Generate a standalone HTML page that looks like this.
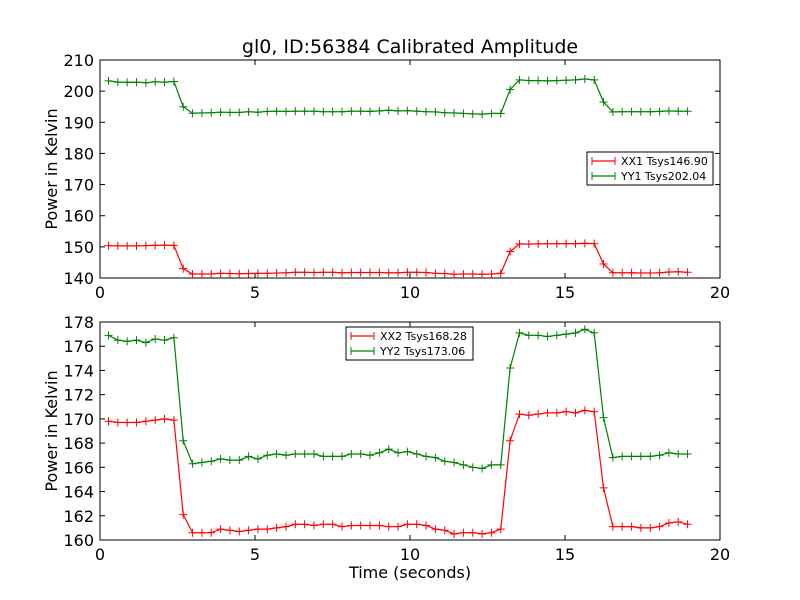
<!DOCTYPE html>
<html><head><meta charset="utf-8"><style>body{margin:0;background:#fff}svg{display:block}text{font-family:"DejaVu Sans","Liberation Sans",sans-serif}</style></head>
<body><svg id="s" width="800" height="600" xmlns="http://www.w3.org/2000/svg"></svg>
<script>
const S=document.getElementById('s');let h='';
const X0=100,X1=720;const xp=t=>X0+t*31;
function ptx(i){return 108.5+i*9.34;}
function axes(y0,y1,vmin,vmax,step,fmt){
 const yp=v=>y1-(v-vmin)/(vmax-vmin)*(y1-y0);
 h+=`<rect x="${X0}" y="${y0}" width="${X1-X0}" height="${y1-y0}" fill="#fff" stroke="#000" stroke-width="1"/>`;
 for(let t=0;t<=20;t+=5){const x=xp(t);h+=`<line x1="${x}" y1="${y1}" x2="${x}" y2="${y1-5}" stroke="#000"/><line x1="${x}" y1="${y0}" x2="${x}" y2="${y0+5}" stroke="#000"/><text x="${x}" y="${y1+20}" font-size="16" text-anchor="middle">${t}</text>`;}
 for(let v=vmin;v<=vmax+1e-9;v+=step){const y=yp(v);h+=`<line x1="${X0}" y1="${y}" x2="${X0+5}" y2="${y}" stroke="#000"/><line x1="${X1}" y1="${y}" x2="${X1-5}" y2="${y}" stroke="#000"/><text x="${X0-6}" y="${y+6}" font-size="16" text-anchor="end">${v}</text>`;}
 return yp;}
function series(yp,vals,c){let p=vals.map((v,i)=>`${ptx(i).toFixed(1)},${yp(v).toFixed(1)}`).join(' ');
 h+=`<polyline points="${p}" fill="none" stroke="${c}" stroke-width="1.2"/>`;
 vals.forEach((v,i)=>{const x=ptx(i),y=yp(v);h+=`<path d="M${x-4} ${y}H${x+4}M${x} ${y-4}V${y+4}" stroke="${c}" stroke-width="1"/>`;});}
function build(a,b,mid1,mid2,c,d){return [].concat(a,[mid1],b,[mid2],c,d);}
// bottom
const xx2=[169.8,169.7,169.7,169.7,169.8,169.9,170.0,169.9,162.1,
160.6,160.6,160.6,160.9,160.8,160.7,160.8,160.9,160.9,161.0,161.1,161.3,161.3,161.2,161.3,161.3,161.1,161.2,161.2,161.2,161.2,161.1,161.1,161.3,161.3,161.2,160.9,160.8,160.5,160.6,160.6,160.5,160.6,160.9,
168.2,170.4,170.3,170.4,170.5,170.5,170.6,170.5,170.7,170.6,164.3,161.1,161.1,161.1,161.0,161.0,161.1,161.4,161.5,161.3];
const yy2=[176.9,176.5,176.4,176.5,176.3,176.6,176.5,176.7,168.2,
166.3,166.4,166.5,166.7,166.6,166.6,166.9,166.7,167.0,167.1,167.0,167.1,167.1,167.1,166.9,166.9,166.9,167.1,167.1,167.0,167.2,167.5,167.2,167.3,167.1,166.9,166.8,166.5,166.4,166.2,166.0,165.9,166.2,166.2,
174.2,177.1,176.9,176.9,176.8,176.9,177.0,177.1,177.4,177.1,170.1,166.8,166.9,166.9,166.9,166.9,167.0,167.2,167.1,167.1];
const xx1=xx2.map((v,i)=>{if(i<8)return 150.3+(v-169.7)*0.8;if(i==8)return 143;if(i==43)return 148.5;if(i>=44&&i<=52)return 151+(v-170.5)*0.5;if(i==53)return 144.5;return 141.2+(v-160.5)*0.8;});
const yy1=yy2.map((v,i)=>{if(i<8)return 202.8+(v-176.4)*1.0;if(i==8)return 195;if(i==43)return 200.5;if(i>=44&&i<=52)return 203.4+(v-176.9)*1.0;if(i==53)return 196.5;return 192.6+(v-165.9)*0.8;});
let yp=axes(60,278,140,210,10);
series(yp,xx1,'#f00');series(yp,yy1,'#008000');
h+=`<text x="410" y="53" font-size="19" text-anchor="middle">gl0, ID:56384 Calibrated Amplitude</text>`;
h+=`<text transform="translate(57,169) rotate(-90)" font-size="16" text-anchor="middle">Power in Kelvin</text>`;
function legend(x,y,w,l1,l2){h+=`<rect x="${x}" y="${y}" width="${w}" height="33" fill="#fff" stroke="#000"/>`;
[[l1,'#f00'],[l2,'#008000']].forEach((e,k)=>{const yy=y+9+k*15;h+=`<line x1="${x+5}" y1="${yy}" x2="${x+28}" y2="${yy}" stroke="${e[1]}" stroke-width="1.2"/><path d="M${x+5} ${yy-4}V${yy+4}M${x+28} ${yy-4}V${yy+4}" stroke="${e[1]}"/><text x="${x+34}" y="${yy+4}" font-size="11">${e[0]}</text>`;});}
legend(587,152,126,'XX1 Tsys146.90','YY1 Tsys202.04');
yp=axes(322,540,160,178,2);
series(yp,xx2,'#f00');series(yp,yy2,'#008000');
h+=`<text transform="translate(57,431) rotate(-90)" font-size="16" text-anchor="middle">Power in Kelvin</text>`;
h+=`<text x="410" y="578" font-size="16" text-anchor="middle">Time (seconds)</text>`;
legend(346,327,127,'XX2 Tsys168.28','YY2 Tsys173.06');
S.innerHTML=h;
</script></body></html>
